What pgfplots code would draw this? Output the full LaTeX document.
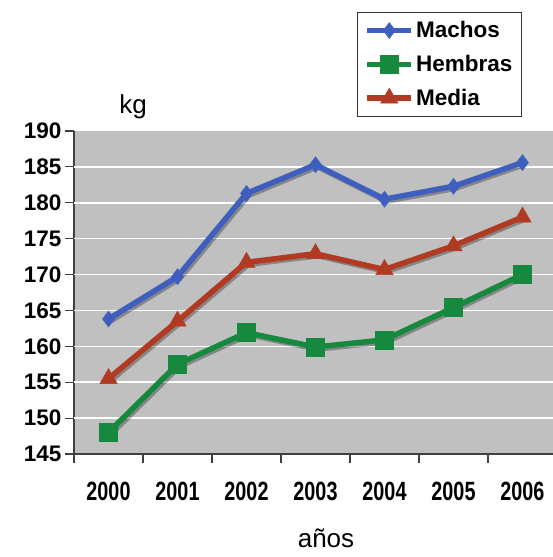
\documentclass[border=0pt]{standalone}
\usepackage{pgfplots}
\pgfplotsset{compat=1.18}
\usepackage{fontspec}
\setmainfont{Liberation Sans}
\definecolor{colmach}{HTML}{3F5FBF}
\definecolor{colhem}{HTML}{17893F}
\definecolor{colmed}{HTML}{B03A22}
\definecolor{bgcol}{HTML}{C0C0C0}
\begin{document}
\begin{tikzpicture}
\begin{axis}[
 at={(74pt,103pt)}, anchor=south west,
 scale only axis, width=483pt, height=323pt,
 xmin=-0.5, xmax=6.5, ymin=145, ymax=190,
 axis background/.style={fill=bgcol},
 axis x line*=bottom, axis y line*=left,
 axis line style={draw=black!75, line width=1.5pt, -},
 ytick={145,150,...,190},
 xtick={-0.5,0.5,...,6.5},
 xticklabels={\scalebox{0.9}[1.2]{2000},\scalebox{0.9}[1.2]{2001},\scalebox{0.9}[1.2]{2002},\scalebox{0.9}[1.2]{2003},\scalebox{0.9}[1.2]{2004},\scalebox{0.9}[1.2]{2005},\scalebox{0.9}[1.2]{2006}},
 x tick label as interval,
 tick align=outside, major tick length=9pt,
 tick style={draw=black!75, line width=1.2pt},
 extra y ticks={150,155,...,185}, extra y tick labels={},
 extra y tick style={ymajorgrids=true, major tick length=0pt},
 grid style={white, line width=1.6pt},
 yticklabel style={font=\fontsize{22.5}{22.5}\selectfont\bfseries},
 xticklabel style={font=\fontsize{22}{22}\selectfont\bfseries, yshift=-16pt},
 /pgf/number format/assume math mode=true,
 legend style={at={(axis description cs:0.586,1.368)}, anchor=north west, draw=black!80, line width=1pt, fill=white, font=\fontsize{22.5}{22.5}\selectfont\bfseries, row sep=12pt, inner xsep=7pt, inner ysep=7pt, cells={anchor=west}},
 legend image code/.code={\draw[mark repeat=2,mark phase=2,#1] plot coordinates {(0pt,0pt) (22pt,0pt) (44pt,0pt)};},
]
% shadows
\addplot[forget plot, black, opacity=0.3, line width=5.5pt, xshift=2pt, yshift=-2pt] coordinates {(0,163.8) (1,169.7) (2,181.3) (3,185.3) (4,180.5) (5,182.3) (6,185.6)};
\addplot[forget plot, black, opacity=0.3, line width=5.5pt, xshift=2pt, yshift=-2pt] coordinates {(0,148.0) (1,157.5) (2,161.9) (3,159.9) (4,160.9) (5,165.4) (6,170.0)};
\addplot[forget plot, black, opacity=0.3, line width=5.5pt, xshift=2pt, yshift=-2pt] coordinates {(0,155.5) (1,163.5) (2,171.7) (3,172.9) (4,170.7) (5,174.0) (6,178.0)};
\addplot[colmach, line width=5.5pt, mark=diamond*, mark size=8pt, mark options={solid, line width=0.5pt, fill=colmach}] coordinates {(0,163.8) (1,169.7) (2,181.3) (3,185.3) (4,180.5) (5,182.3) (6,185.6)};
\addlegendentry{Machos}
\addplot[colhem, line width=5.5pt, mark=square*, mark size=9pt, mark options={solid, line width=0.5pt, fill=colhem}] coordinates {(0,148.0) (1,157.5) (2,161.9) (3,159.9) (4,160.9) (5,165.4) (6,170.0)};
\addlegendentry{Hembras}
\addplot[colmed, line width=5.5pt, mark=triangle*, mark size=10pt, mark options={solid, line width=0.5pt, fill=colmed}] coordinates {(0,155.5) (1,163.5) (2,171.7) (3,172.9) (4,170.7) (5,174.0) (6,178.0)};
\addlegendentry{Media}
\end{axis}
\node[font=\fontsize{26}{26}\selectfont] at (133pt,450pt) {kg};
\node[font=\fontsize{26}{26}\selectfont] at (326pt,19pt) {años};
\pgfresetboundingbox
\path[use as bounding box] (0pt,0pt) rectangle (553pt,557pt);
\end{tikzpicture}
\end{document}
